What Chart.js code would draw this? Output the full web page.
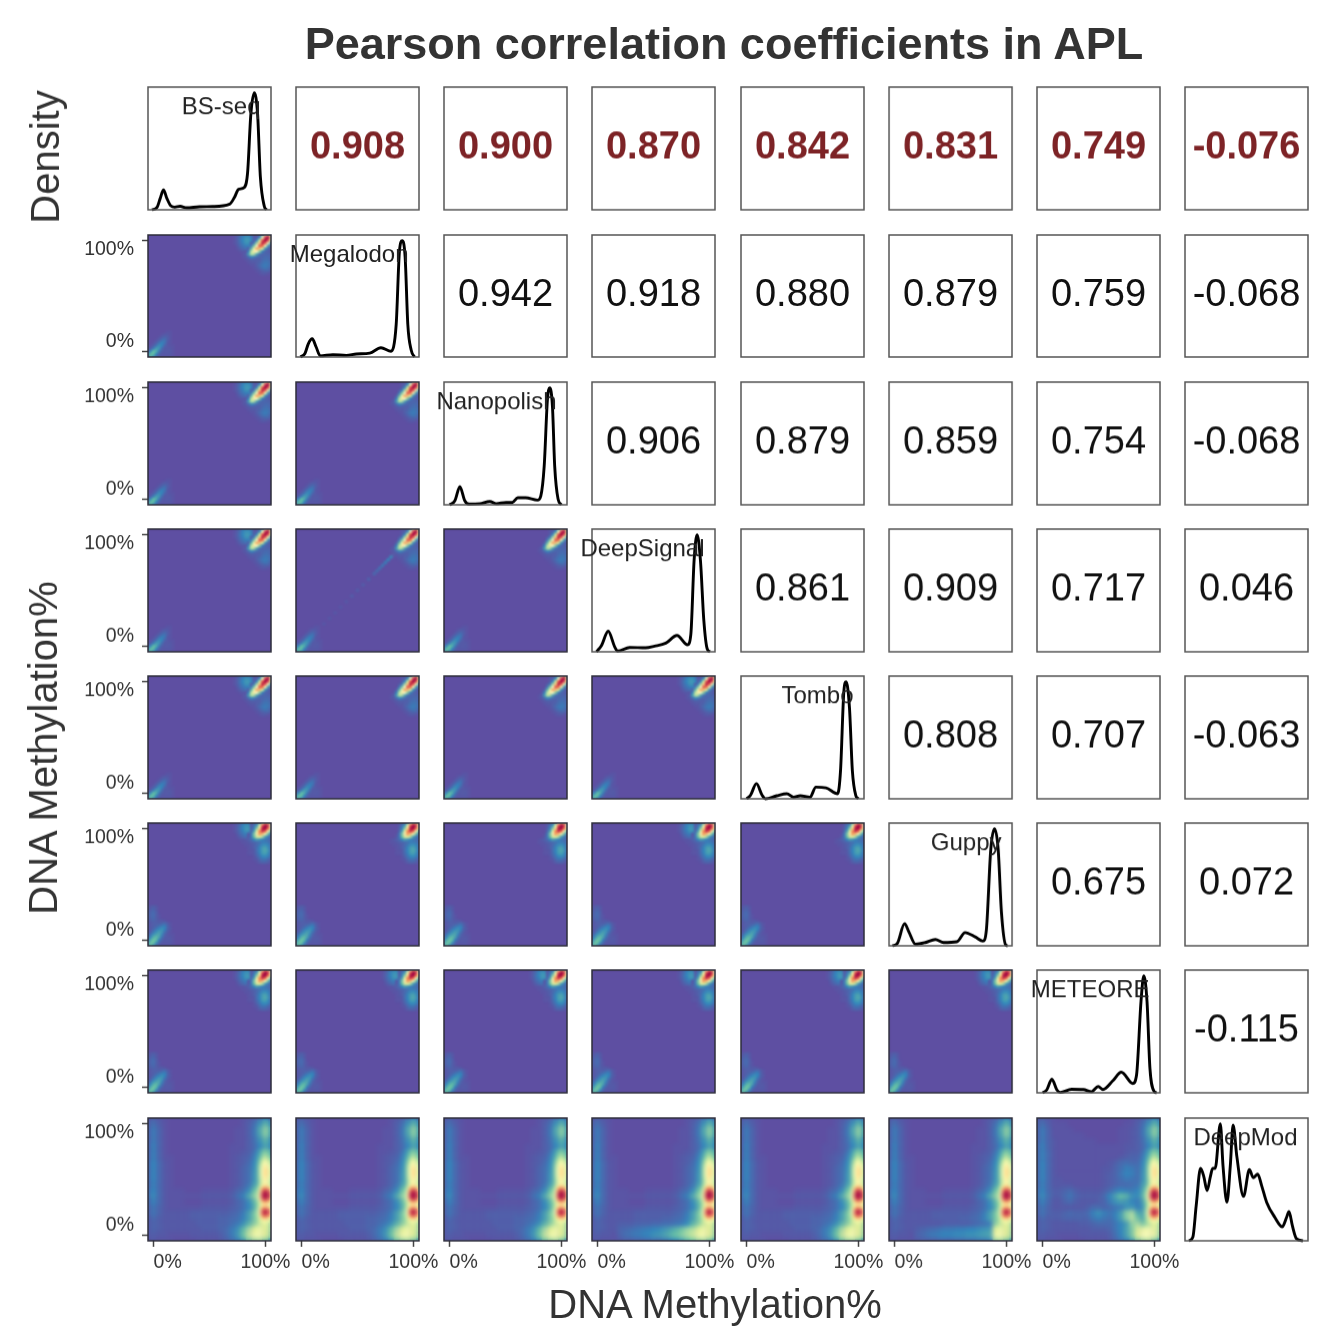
<!DOCTYPE html>
<html>
<head>
<meta charset="utf-8">
<title>Pearson correlation coefficients in APL</title>
<script src="https://cdn.jsdelivr.net/npm/chart.js@4"></script>
<style>
html, body { margin: 0; padding: 0; background: #fff; }
body { position: relative; width: 1323px; height: 1333px; overflow: hidden; font-family: "Liberation Sans", Arial, sans-serif; color: #333; }
canvas { position: absolute; filter: blur(0.4px); }
.lab { position: absolute; white-space: nowrap; transform: translate(-50%, -50%); line-height: 1; filter: blur(0.4px); }
.v { transform: translate(-50%, -50%) rotate(-90deg); }
</style>
</head>
<body>
<div class="lab" style="left:724px;top:43px;font-size:45px;font-weight:bold">Pearson correlation coefficients in APL</div>
<div class="lab v" style="left:45px;top:157px;font-size:40px">Density</div>
<div class="lab v" style="left:43px;top:748px;font-size:40px">DNA Methylation%</div>
<div class="lab" style="left:715px;top:1304px;font-size:40px">DNA Methylation%</div>
<script>
const methods = ["BS-seq", "Megalodon", "Nanopolish", "DeepSignal", "Tombo", "Guppy", "METEORE", "DeepMod"]

// upper triangle, row by row
const corrRows = [
    ["0.908", "0.900", "0.870", "0.842", "0.831", "0.749", "-0.076"],
    ["0.942", "0.918", "0.880", "0.879", "0.759", "-0.068"],
    ["0.906", "0.879", "0.859", "0.754", "-0.068"],
    ["0.861", "0.909", "0.717", "0.046"],
    ["0.808", "0.707", "-0.063"],
    ["0.675", "0.072"],
    ["-0.115"]
]

// density curves, [methylation %, height relative to the peak]
const bsSeq = [[-1.5,0],[3,2],[6,10],[8.9,17],[11.8,10],[15.4,3.4],[19,2.3],[23.7,3],[29.6,1.7],[41,2.6],[53,2.8],[68,4.8],[72.5,11],[76,17.6],[81,19],[84,31],[87,82],[90,100],[93,82],[95.5,28],[99,3],[101,0]]
const megalodon = [[-1,0],[3,3],[6,11.4],[9.5,15.7],[13,8.6],[16.6,1],[28,2],[40,1.4],[49,2.6],[61,3.4],[71,8],[80,5],[84.6,28],[87.5,91],[90,100],[92.6,86],[95,28],[98,6],[101,0]]
const nanopolish = [[0,0],[4.7,3.4],[9.2,15.6],[13.6,3.4],[17.4,0.6],[27,1],[36,2.8],[41.7,1],[50.5,2],[56,2],[61,6],[68,6],[78.6,4],[81.6,7.7],[84.6,33],[87.5,90],[89.6,100],[92,84],[94,33],[97,5],[100,0]]
const deepSignal = [[-1,0],[3.5,5.4],[9.5,17.6],[15.4,4],[18,0.6],[28.7,3.7],[43,3.4],[51,4.8],[61,7.4],[71,14],[80.4,6],[83.4,15],[86.3,78],[89,100],[92,78],[95,27],[98,2.6],[100.5,0]]
const tombo = [[0,0],[3.5,3],[8.8,13],[13.9,3],[16.8,0],[27,2.6],[36,4.3],[42,1.4],[48,2.6],[56.7,1.4],[62,10],[71,9.4],[81.4,4.3],[84,24],[87,92],[89,100],[92,78],[94.6,24],[97.6,3],[100,0]]
const guppy = [[-2,0],[2.4,2],[8.9,19],[12.7,12],[18.6,1.4],[27.5,2.8],[36.4,5.4],[43.8,2.8],[55.6,3.4],[63,11.3],[72,7.6],[79,4],[82,13],[86,82.5],[89.3,100],[92.6,82.5],[95.5,29],[99.4,0.6],[101,0]]
const meteore = [[0,0],[3.8,2.6],[8.3,11.6],[12.7,2.6],[15.7,0.3],[26,3],[36.4,2.8],[43.8,1],[49.7,5.4],[54,2.8],[63,10.5],[70.4,17.6],[80.7,8],[84,15],[88,78],[90.5,100],[93.4,78],[96,21],[100,1],[102,0]]
const deepMod = [[-1.5,0],[2,3],[5,30],[8.9,62],[11.8,55],[14.8,43],[17.7,55],[19.8,62],[22,62],[26.6,100],[29,64],[32.5,33],[35.5,64],[38,99],[41.4,72],[47.3,38],[52.6,61],[56,54],[60,57],[63.6,47],[68,33],[75.4,20],[82,12],[85.8,20],[88,25],[91,13],[94.6,2],[100.5,0]]
const densities = [bsSeq, megalodon, nanopolish, deepSignal, tombo, guppy, meteore, deepMod]

// heat tables: first row is the highest y, values are density in percent of the colour range
const cornerX = [70,72.5,75,77.5,80,82.5,85,87.5,90,92.5,95,97.5,100,102.5,105]
const cornerY = [105,102.5,100,97.5,95,92.5,90,87.5,85,82.5,80,77.5,75,72.5,70]
const cornerNarrow = [
    [0,0,0,0,0,0,0,0,1,1,3,12,48,68,36],
    [0,0,0,0,0,0,0,0,2,3,12,48,92,100,58],
    [0,0,0,0,0,0,0,0,2,10,36,85,100,88,40],
    [0,0,0,0,0,0,0,2,8,30,65,95,85,48,14],
    [0,0,0,0,0,0,0,7,24,50,85,80,48,14,4],
    [0,0,0,0,0,0,3,18,45,70,65,38,12,4,2],
    [0,0,0,0,0,1,9,32,55,50,25,9,4,3,2],
    [0,0,0,0,1,3,14,32,30,15,6,4,4,4,3],
    [0,0,0,0,1,2,5,10,8,5,4,4,5,5,4],
    [0,0,0,0,0,1,2,3,3,3,3,5,6,6,4],
    [0,0,0,0,0,0,1,2,2,3,4,6,7,7,5],
    [0,0,0,0,0,0,0,1,1,3,5,7,8,7,5],
    [0,0,0,0,0,0,0,0,1,2,4,6,7,6,4],
    [0,0,0,0,0,0,0,0,0,1,2,3,4,4,2],
    [0,0,0,0,0,0,0,0,0,0,1,2,2,1,0]
]
const cornerWide = [
    [0,0,0,0,0,0,0,1,2,6,16,50,70,66,36],
    [0,0,0,0,0,0,0,2,7,14,44,86,100,92,50],
    [0,0,0,0,0,0,0,3,9,26,62,96,100,82,42],
    [0,0,0,0,0,0,0,4,15,42,76,92,82,52,20],
    [0,0,0,0,0,0,1,7,24,54,72,66,46,22,8],
    [0,0,0,0,0,0,2,7,20,38,40,30,14,8,4],
    [0,0,0,0,1,2,3,5,10,14,12,9,7,6,4],
    [0,0,0,0,1,1,2,3,4,5,6,8,8,7,5],
    [0,0,0,0,0,1,1,2,3,5,8,11,12,10,6],
    [0,0,0,0,0,0,1,2,3,6,10,14,15,12,7],
    [0,0,0,0,0,0,1,1,2,6,10,14,16,13,7],
    [0,0,0,0,0,0,1,1,2,5,9,13,14,11,6],
    [0,0,0,0,0,0,0,0,1,4,7,10,11,9,5],
    [0,0,0,0,0,0,0,0,1,2,5,7,7,5,3],
    [0,0,0,0,0,0,0,0,0,1,3,4,4,3,1]
]
// soft patch left of the hot spot, same grid as the corner tables
const tealPatch = [
    [0,0,2,4,7,9,9,6,2,0,0,0,0,0,0],
    [0,1,3,6,10,12,12,9,0,0,0,0,0,0,0],
    [0,1,3,7,10,13,13,10,0,0,0,0,0,0,0],
    [0,1,3,6,9,12,12,9,0,0,0,0,0,0,0],
    [0,0,2,5,7,9,9,0,0,0,0,0,0,0,0],
    [0,0,1,3,5,6,0,0,0,0,0,0,0,0,0],
    [0,0,0,1,2,3,0,0,0,0,0,0,0,0,0]
]

const lowX = [-5,-2.5,0,2.5,5,7.5,10,12.5,15,17.5,20]
const lowY = [30,27.5,25,22.5,20,17.5,15,12.5,10,7.5,5,2.5,0,-2.5,-5]
const lowNarrow = [
    [0,0,0,0,0,0,0,0,0,0,0],
    [0,0,0,0,0,0,0,0,0,0,0],
    [0,0,0,0,0,0,0,0,0,0,0],
    [0,0,0,0,0,0,0,0,0,0,0],
    [0,0,0,0,0,0,0,0,0,0,0],
    [0,0,0,0,0,0,0,1,1,0,0],
    [0,0,0,0,0,1,2,2,1,0,0],
    [0,0,0,0,1,3,4,3,1,0,0],
    [0,0,0,1,3,6,7,3,1,0,0],
    [0,0,1,3,7,10,7,2,1,0,0],
    [0,1,3,7,12,10,4,2,1,1,0],
    [1,3,8,14,13,6,2,2,2,1,0],
    [4,11,19,17,8,3,2,2,2,1,0],
    [9,20,20,10,4,2,2,2,2,1,0],
    [15,18,11,5,2,1,1,1,1,0,0]
]
const lowWide = [
    [1,2,3,2,0,0,0,0,0,0,0],
    [1,3,4,2,0,0,0,0,0,0,0],
    [2,4,5,3,0,0,0,0,0,0,0],
    [2,4,5,3,1,0,0,0,0,0,0],
    [2,4,5,3,1,0,0,0,0,0,0],
    [2,3,4,3,2,2,1,0,0,0,0],
    [1,2,3,3,3,4,5,3,1,0,0],
    [1,2,3,4,6,8,9,4,1,0,0],
    [1,2,4,7,10,12,10,4,2,0,0],
    [1,3,7,11,14,13,7,3,1,0,0],
    [2,7,12,15,16,11,4,2,1,1,0],
    [4,11,17,19,15,7,3,2,2,1,0],
    [8,16,21,19,9,4,2,2,2,1,0],
    [12,21,21,12,5,2,2,2,2,1,0],
    [16,20,12,5,2,1,1,1,1,0,0]
]
// faint streak along the diagonal in the DeepSignal x Megalodon panel
const diagStreak = [[20,20,2],[25,25,2],[30,30,2],[35,35,2],[40,40,2],[45,45,3],[50,50,3],[55,55,3],[60,60,4],[65,65,5],[67.5,67.5,6],[70,70,7],[72.5,72.5,8],[75,75,9],[77.5,77.5,10],[80,80,11],[82.5,82.5,13]]

const modX = [-5,0,5,10,15,20,25,30,35,40,45,50,55,60,65,70,75,80,85,90,95,100,105]
const modY = [105,100,95,90,85,80,75,70,65,60,55,50,45,40,35,30,25,20,15,10,5,0,-5]
const deepModA = [
    [2,3,2,1,0,0,0,0,0,0,0,0,0,0,0,0,0,1,2,3,6,10,6],
    [3,6,3,1,0,0,0,0,0,0,0,0,0,0,0,0,0,1,3,6,12,18,12],
    [3,8,4,1,0,0,0,0,0,0,0,0,0,0,0,0,1,1,3,7,16,26,16],
    [3,8,4,1,0,0,0,0,0,0,0,0,0,0,0,0,1,1,3,7,15,25,15],
    [3,8,4,1,0,0,0,0,0,0,0,0,0,0,0,0,1,1,3,6,12,18,12],
    [3,9,4,1,0,0,0,0,0,0,0,0,0,0,0,1,1,1,3,5,10,15,11],
    [3,9,4,1,0,0,0,0,0,0,0,0,0,0,0,1,1,2,3,6,14,21,15],
    [3,9,4,1,1,0,0,0,0,0,0,0,0,0,0,1,2,3,4,8,18,31,20],
    [4,10,5,2,1,0,0,0,0,0,0,0,0,0,0,1,2,3,5,10,24,43,26],
    [4,10,5,2,1,0,0,0,0,0,0,0,0,0,0,1,2,4,6,11,30,55,32],
    [4,10,5,2,1,0,0,0,0,0,0,0,0,0,0,1,2,4,6,12,30,58,32],
    [4,10,5,2,1,0,0,0,0,0,0,0,0,0,0,1,2,4,6,12,30,54,30],
    [4,9,5,2,1,0,0,0,0,0,0,0,0,0,0,1,2,4,7,14,30,46,30],
    [5,10,5,2,1,1,1,0,0,0,1,1,1,1,1,2,4,6,11,20,36,70,44],
    [5,11,5,2,1,1,1,1,1,1,2,2,2,2,2,3,6,9,16,26,50,97,60],
    [4,9,5,2,1,1,1,0,0,0,1,1,1,1,1,2,4,6,11,18,35,68,42],
    [3,7,4,2,1,1,1,1,1,1,2,2,2,2,2,3,4,6,10,16,32,56,36],
    [3,7,4,2,2,2,2,2,3,3,3,3,3,3,3,4,5,8,14,22,46,88,52],
    [2,5,3,2,2,2,2,2,3,3,3,3,3,4,4,5,6,9,14,22,40,62,42],
    [2,4,3,2,2,2,2,2,2,3,3,3,3,4,4,6,8,12,18,26,36,40,30],
    [2,4,3,2,2,2,2,2,2,2,3,3,3,4,5,8,12,19,30,40,44,40,30],
    [2,3,2,2,1,1,1,1,2,2,2,2,2,3,5,8,13,21,34,44,46,40,28],
    [1,2,1,1,1,0,0,0,0,1,1,1,1,2,3,5,8,13,22,28,30,24,16]
]
const deepModB = [
    [2,3,2,1,0,0,0,0,0,0,0,0,0,0,0,0,0,1,2,3,6,10,6],
    [3,6,3,1,1,1,0,0,0,0,0,0,0,0,0,0,1,1,3,6,12,18,12],
    [3,8,4,1,1,1,1,0,0,0,0,0,0,0,0,1,1,2,3,7,16,26,16],
    [3,8,4,1,1,1,1,1,1,0,0,0,0,0,0,1,1,2,3,7,15,25,15],
    [3,8,4,2,1,1,1,1,1,1,1,0,0,0,0,1,1,2,3,6,12,18,12],
    [4,9,4,2,1,1,1,1,1,1,1,1,1,1,1,1,2,2,3,5,10,15,11],
    [4,9,5,2,1,1,1,1,1,1,1,1,1,1,1,1,2,3,3,6,14,21,15],
    [4,9,5,2,1,1,1,1,1,1,1,1,1,1,1,2,3,4,4,8,18,31,20],
    [4,10,5,2,1,1,1,1,1,1,1,1,1,2,3,5,6,5,5,10,24,43,26],
    [4,10,5,2,1,1,1,1,1,1,1,1,2,2,4,6,9,8,6,11,30,55,32],
    [4,10,5,2,1,1,1,1,1,1,1,1,2,3,4,7,10,9,6,12,30,58,32],
    [4,10,5,2,2,1,1,1,1,1,1,1,2,3,4,6,8,7,6,12,30,54,30],
    [4,9,5,2,2,2,2,1,1,1,1,1,2,3,4,5,5,6,7,14,30,46,30],
    [5,10,5,3,3,4,5,3,2,2,2,2,3,5,8,10,9,8,10,16,36,72,44],
    [5,11,6,3,3,5,7,4,3,3,3,3,5,10,15,20,18,12,11,18,50,97,60],
    [4,9,5,2,2,4,5,3,2,2,2,3,4,8,12,14,13,10,8,14,35,68,42],
    [3,7,4,2,2,2,2,2,2,3,5,5,4,5,7,8,12,13,9,12,30,56,36],
    [3,7,4,3,3,4,5,4,4,5,9,12,9,7,9,14,25,30,16,15,44,86,50],
    [2,5,3,3,3,4,4,4,4,4,7,9,7,6,9,14,24,32,22,16,36,60,40],
    [2,4,3,2,2,2,2,2,3,3,4,5,5,5,7,10,14,26,30,24,32,40,30],
    [2,4,3,2,2,2,2,2,2,2,3,3,3,4,7,10,15,24,38,44,46,42,30],
    [2,3,2,2,1,1,1,1,2,2,2,2,2,3,6,10,15,24,40,48,48,44,28],
    [1,2,1,1,1,0,0,0,0,1,1,1,1,2,4,6,9,14,24,30,32,24,16]
]
// finer cells along the right edge of the DeepMod row, where the two red spots are
const peakX = [92.5,95,97.5,100,102.5,105]
const peakY = [75,72.5,70,67.5,65,62.5,60,57.5,55,52.5,50,47.5,45,42.5,40,37.5,35,32.5,30,27.5,25,22.5,20,17.5,15,12.5]
const deepModPeaks = [
    [10,14,20,24,20,14],
    [11,16,24,28,24,15],
    [12,18,28,34,28,18],
    [13,22,34,42,34,22],
    [14,26,42,50,42,26],
    [15,30,46,56,48,30],
    [15,32,50,62,52,32],
    [15,32,50,64,54,32],
    [15,32,50,64,54,32],
    [15,32,50,62,52,31],
    [15,30,46,58,48,29],
    [15,28,44,54,44,28],
    [16,30,46,56,46,28],
    [20,40,62,74,64,38],
    [24,48,82,96,86,50],
    [28,54,94,100,96,60],
    [30,56,96,100,98,62],
    [28,52,88,98,90,56],
    [24,42,66,78,68,42],
    [22,36,50,58,50,32],
    [24,40,62,72,62,38],
    [26,48,84,96,86,50],
    [28,52,92,100,92,54],
    [28,46,80,92,80,48],
    [26,40,58,68,58,38],
    [26,36,44,48,44,30]
]
// the low band at the bottom of the row differs per panel; y = 10, 5, 0, -5 over x = 20..85 by 5
const bandX = [20,25,30,35,40,45,50,55,60,65,70,75,80,85]
const bandY = [10,5,0,-5]
const bandDeepSignal = [
    [3,3,3,4,4,4,5,5,6,6,7,8,11,18],
    [4,5,6,7,8,9,10,11,13,15,18,22,28,32],
    [4,6,7,8,9,10,12,13,15,18,21,25,30,35],
    [2,3,3,4,4,5,6,6,7,9,11,14,18,22]
]
const bandGuppy = [
    [2,2,2,2,2,3,3,3,3,3,4,5,6,8],
    [3,4,5,6,7,8,8,9,9,10,10,11,12,13],
    [4,5,7,8,9,10,10,11,11,12,12,13,14,15],
    [2,3,3,3,4,4,4,5,5,6,6,7,7,8]
]

const colLeft = [148, 296, 444, 592, 740.5, 888.5, 1036.5, 1185]
const rowTop = [87, 234.5, 382, 529, 676, 823, 970, 1118]
const boxW = 123
const boxH = 122.5
// room around each panel for ticks and for names that stick out of the box
const padL = 70, padR = 30, padT = 10, padB = 40

// reversed Spectral
const spectral = ["#5e4fa2","#3288bd","#66c2a5","#abdda4","#e6f598","#ffffbf","#fee08b","#fdae61","#f46d43","#d53e4f","#9e0142"].map(h => [
    parseInt(h.slice(1,3),16), parseInt(h.slice(3,5),16), parseInt(h.slice(5,7),16)
])
function heatColor(v){
    let t = Math.min(v, 100) / 10
    let i = Math.min(Math.floor(t), 9)
    let f = t - i
    let c = spectral[i].map((a, k) => Math.round(a + (spectral[i+1][k] - a) * f))
    return `rgb(${c[0]},${c[1]},${c[2]})`
}

function tableCells(table, xs, ys){
    let cells = []
    table.forEach((row, j) => row.forEach((v, i) => {
        if(v > 0) cells.push({x: xs[i], y: ys[j], v: v})
    }))
    return cells
}

const blurPlugin = {
    id: "blurHeat",
    beforeDatasetsDraw(chart, args, opts){
        if(!opts.on) return
        let a = chart.chartArea
        chart.ctx.fillStyle = heatColor(0)
        chart.ctx.fillRect(a.left, a.top, a.width, a.height)
    },
    afterDatasetsDraw(chart, args, opts){
        if(!opts.on) return
        let a = chart.chartArea, ctx = chart.ctx, r = chart.currentDevicePixelRatio
        ctx.save()
        ctx.beginPath()
        ctx.rect(a.left, a.top, a.width, a.height)
        ctx.clip()
        ctx.filter = `blur(${opts.on}px)`
        ctx.drawImage(chart.canvas, a.left*r, a.top*r, a.width*r, a.height*r, a.left, a.top, a.width, a.height)
        ctx.restore()
    }
}

const panelPlugin = {
    id: "panelText",
    afterDraw(chart, args, opts){
        let a = chart.chartArea, ctx = chart.ctx
        ctx.save()
        ctx.strokeStyle = opts.frame
        ctx.lineWidth = 1.5
        ctx.strokeRect(a.left, a.top, a.width, a.height)
        ctx.textBaseline = "middle"
        if(opts.value){
            ctx.font = `${opts.bold ? "bold " : ""}38px "Liberation Sans"`
            ctx.fillStyle = opts.bold ? "#7d2326" : "#111"
            ctx.textAlign = "center"
            ctx.fillText(opts.value, a.left + a.width/2, a.top + a.height/2)
        }
        if(opts.name){
            ctx.font = '24px "Liberation Sans"'
            ctx.fillStyle = "#222"
            ctx.textAlign = "right"
            ctx.fillText(opts.name, a.left + 112.5, a.top + 20)
        }
        // tick labels sit inward of their ticks in this figure
        ctx.font = '19.5px "Liberation Sans"'
        ctx.fillStyle = "#333"
        if(opts.showY){
            let sy = chart.scales.y
            ctx.textAlign = "right"
            ctx.fillText("100%", a.left - 14, sy.getPixelForValue(100) + 9)
            ctx.fillText("0%", a.left - 14, sy.getPixelForValue(0) - 10)
        }
        if(opts.showX){
            let sx = chart.scales.x
            ctx.textAlign = "left"
            ctx.fillText("0%", sx.getPixelForValue(0), a.bottom + 22)
            ctx.textAlign = "center"
            ctx.fillText("100%", sx.getPixelForValue(100), a.bottom + 22)
        }
        ctx.restore()
    }
}

function axis(show, size, horizontal){
    return {
        type: "linear",
        min: -5,
        max: 105,
        display: true,
        afterFit(scale){
            if(horizontal) scale.height = size
            else scale.width = size
        },
        afterBuildTicks(scale){
            scale.ticks = show ? [{value: 0}, {value: 100}] : []
        },
        ticks: {display: false},
        border: {display: false},
        grid: {drawOnChartArea: false, drawTicks: show, tickLength: 6, tickWidth: 1.5, tickColor: "#444"}
    }
}

function densityAxis(){
    return {type: "linear", min: 0, max: 105, display: true,
        afterFit(scale){ scale.width = padL },
        afterBuildTicks(scale){ scale.ticks = [] },
        ticks: {display: false}, border: {display: false}, grid: {display: false}}
}

function heatSet(cells, radius){
    return {
        data: cells,
        pointStyle: "rect",
        pointRadius: radius,
        pointBorderWidth: 0,
        pointBackgroundColor: ctx => heatColor(ctx.raw ? ctx.raw.v : 0)
    }
}

function makePanel(row, col){
    let cv = document.createElement("canvas")
    let w = boxW + padL + padR, h = boxH + padT + padB
    cv.style.left = (colLeft[col] - padL) + "px"
    cv.style.top = (rowTop[row] - padT) + "px"
    cv.style.width = w + "px"
    cv.style.height = h + "px"
    cv.width = w
    cv.height = h
    document.body.appendChild(cv)

    let showX = row == 7 && col < 7
    let showY = col == 0 && row > 0
    let datasets = [], blur = 0, text = {frame: "#555", showX: showX, showY: showY}

    if(row == col){
        datasets.push({
            type: "line",
            data: densities[row].map(p => ({x: p[0], y: p[1]})),
            borderColor: "#000",
            borderWidth: 2.9,
            pointRadius: 0,
            cubicInterpolationMode: "monotone",
            clip: false
        })
        text.name = methods[row]
    } else if(row < col){
        text.value = corrRows[row][col - row - 1]
        text.bold = row == 0
    } else {
        text.frame = "#2c2c3a"
        if(row == 7){
            let coarse = tableCells(col == 6 ? deepModB : deepModA, modX, modY)
            let band = []
            if(col == 3) band = tableCells(bandDeepSignal, bandX, bandY)
            if(col == 5) band = tableCells(bandGuppy, bandX, bandY)
            blur = 2
            datasets.push(heatSet(coarse.concat(band), 4))
            datasets.push(heatSet(tableCells(deepModPeaks, peakX, peakY), 2.2))
            // lower order paints on top
            datasets[0].order = 2
            datasets[1].order = 1
        } else {
            let wide = row >= 5
            let cells = tableCells(wide ? lowWide : lowNarrow, lowX, lowY)
            if(col == 0 || col == 3 || row == 6) cells = cells.concat(tableCells(tealPatch, cornerX, cornerY))
            if(row == 3 && col == 1) cells = cells.concat(diagStreak.map(p => ({x: p[0], y: p[1], v: p[2]})))
            cells = cells.concat(tableCells(wide ? cornerWide : cornerNarrow, cornerX, cornerY))
            blur = 1
            datasets.push(heatSet(cells, 2.2))
        }
    }

    new Chart(cv, {
        type: "scatter",
        data: {datasets: datasets},
        plugins: [blurPlugin, panelPlugin],
        options: {
            responsive: false,
            animation: false,
            devicePixelRatio: 1,
            layout: {padding: {left: 0, right: padR, top: padT, bottom: 0}},
            events: [],
            scales: {
                x: axis(showX, padB, true),
                y: row == col ? densityAxis() : axis(showY, padL, false)
            },
            plugins: {
                legend: {display: false},
                tooltip: {enabled: false},
                blurHeat: {on: blur},
                panelText: text
            }
        }
    })
}

for(let r = 0; r < 8; r++){
    for(let c = 0; c < 8; c++){
        makePanel(r, c)
    }
}
</script>
</body>
</html>
